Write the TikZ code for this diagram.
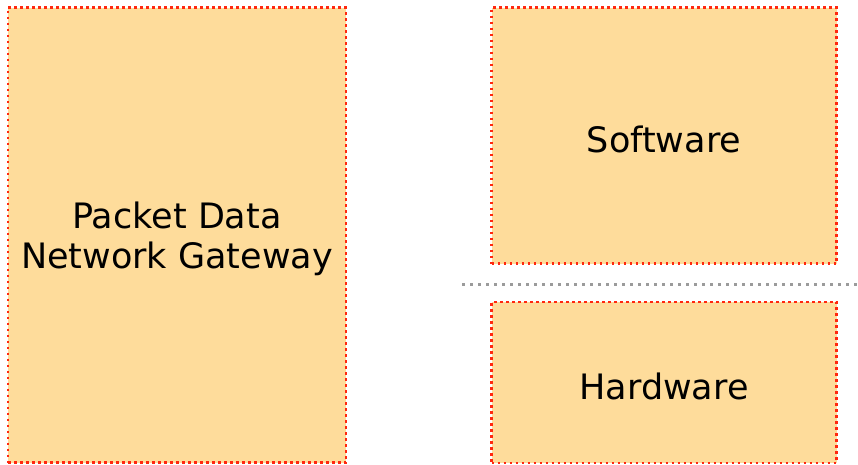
\documentclass[tikz,border=0pt]{standalone}
\usepackage{fontspec}
\setmainfont{DejaVu Sans}
\usetikzlibrary{positioning}
\definecolor{boxfill}{RGB}{254,220,155}
\definecolor{boxline}{RGB}{255,40,15}
\definecolor{sepline}{RGB}{155,155,155}

\begin{document}
\begin{tikzpicture}[x=1pt,y=-1pt,
	block/.style={draw=boxline,fill=boxfill,line width=2.6pt,dash pattern=on 2.6pt off 3.4pt,inner sep=0pt},
	lbl/.style={align=center,inner sep=0pt,yshift=-4pt,font=\fontsize{35}{40}\selectfont},
	sep/.style={draw=sepline,line width=3pt,dash pattern=on 3pt off 5pt}]
\useasboundingbox (0,0) rectangle (858,464);

% gateway on the left
\node[block,minimum width=338pt,minimum height=455pt,label={[lbl]center:{Packet Data\\Network Gateway}}] (pgw) at (177,235) {};

% software / hardware stack on the right
\node[block,minimum width=345pt,minimum height=256pt,label={[lbl]center:Software}] (sw) at (664,135.5) {};
\node[block,minimum width=345pt,minimum height=161pt,label={[lbl]center:Hardware}] (hw) at (664,382.5) {};

\coordinate (sepL) at (462,284);
\coordinate (sepR) at (858,284);
\draw[sep] (sepL) -- (sepR);
\end{tikzpicture}
\end{document}
